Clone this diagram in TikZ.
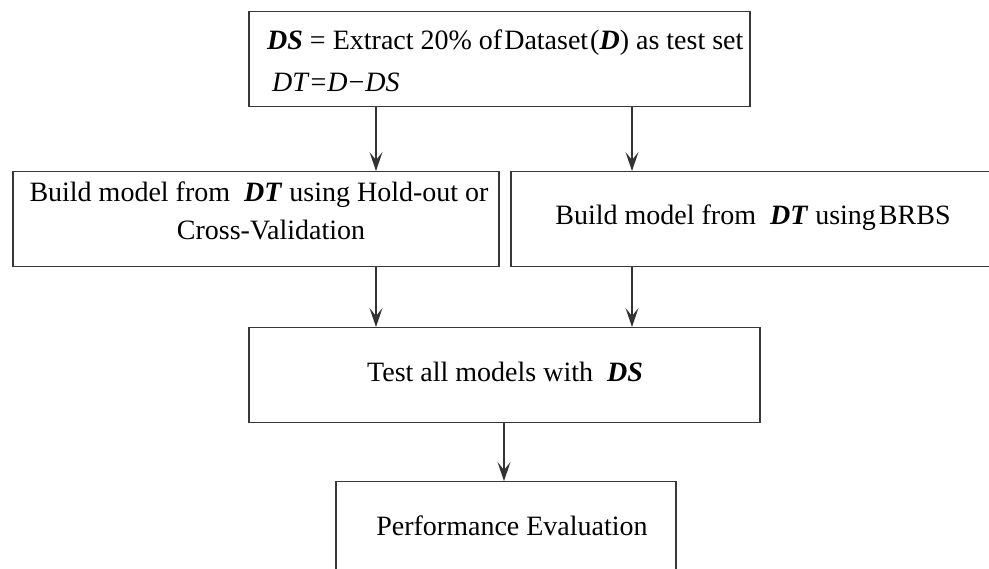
\documentclass[tikz,border=0pt]{standalone}
\usepackage{fontspec}
\setmainfont{Liberation Serif}
\usetikzlibrary{arrows.meta}
\begin{document}
\begin{tikzpicture}[x=1pt,y=-1pt,
  boxnode/.style={draw=black!78, line width=1.5pt, inner sep=0pt, anchor=north west},
  txt/.style={inner sep=0pt, font=\fontsize{28}{34}\selectfont, text=black},
  arr/.style={draw=black!80, line width=1.3pt, -{Stealth[length=19pt, width=13pt, inset=8pt]}}]
\clip (0,0) rectangle (989,569);
\fill[white] (0,0) rectangle (989,569);
% boxes
\node[boxnode, minimum width=501pt, minimum height=95pt] (top) at (248,11) {};
\node[boxnode, minimum width=486pt, minimum height=95pt] (left) at (12,171) {};
\node[boxnode, minimum width=500pt, minimum height=95pt] (right) at (510,171) {};
\node[boxnode, minimum width=511pt, minimum height=95pt] (test) at (248,327) {};
\node[boxnode, minimum width=340pt, minimum height=130pt] (perf) at (335,481) {};
% texts
\node[txt, anchor=base west] (t1) at (267,50) {\textbf{\textit{DS}} = Extract 20\% of\kern2pt Dataset\kern2pt(\textbf{\textit{D}}) as test set};
\node[txt, anchor=base west] (t2) at (272,92) {\textit{DT}\kern1pt=\kern1pt\textit{D}\kern1pt−\kern1pt\textit{DS}};
\node[txt, anchor=base] (l1) at (259,202) {Build model from\enspace\textbf{\textit{DT}} using Hold-out or};
\node[txt, anchor=base] (l2) at (271,240) {Cross-Validation};
\node[txt, anchor=base] (r1) at (753,225) {Build model from\enspace\textbf{\textit{DT}} using\kern3pt BRBS};
\node[txt, anchor=base] (s1) at (505,382) {Test all models with\enspace\textbf{\textit{DS}}};
\node[txt, anchor=base] (p1) at (512,535) {Performance Evaluation};
% connectors
\draw[arr] ([xshift=128pt]top.south west) -- ([xshift=128pt]top.south west |- left.north);
\draw[arr] ([xshift=384pt]top.south west) -- ([xshift=384pt]top.south west |- right.north);
\draw[arr] ([xshift=364pt]left.south west) -- ([xshift=364pt]left.south west |- test.north);
\draw[arr] ([xshift=122pt]right.south west) -- ([xshift=122pt]right.south west |- test.north);
\draw[arr] ([xshift=256pt]test.south west) -- ([xshift=256pt]test.south west |- perf.north);
\end{tikzpicture}
\end{document}
